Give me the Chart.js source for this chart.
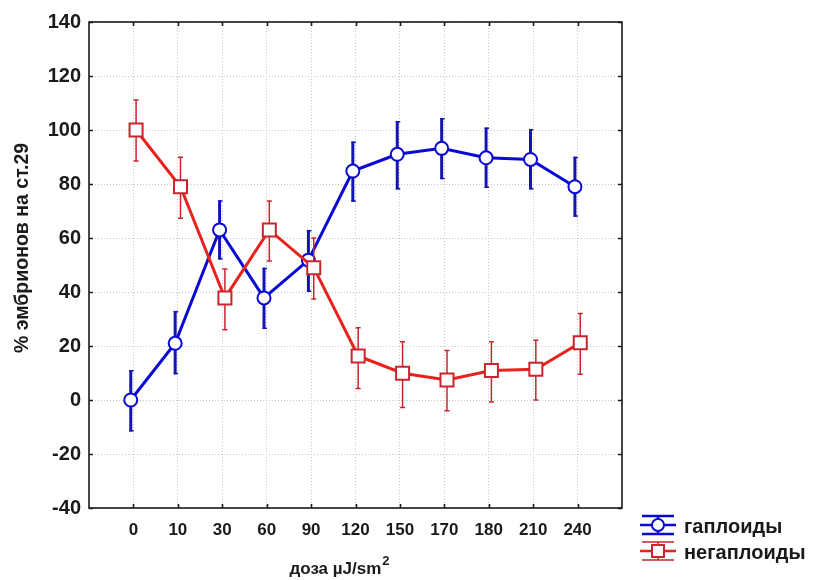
<!DOCTYPE html>
<html><head><meta charset="utf-8">
<script src="https://cdn.jsdelivr.net/npm/chart.js@4/dist/chart.umd.min.js"></script>
<style>html,body{margin:0;padding:0;background:#fff}</style>
</head><body>
<canvas id="c" width="816" height="580"></canvas>
<script>
const categories = ['0','10','30','60','90','120','150','170','180','210','240'];
const haploidMean = [0, 21, 63, 37.8, 51.8, 84.8, 91, 93.2, 89.7, 89.1, 79];
const haploidHigh = [11.1, 33, 74, 49, 63, 95.7, 103.3, 104.4, 100.9, 100.4, 90.1];
const haploidLow = [-11.7, 9.5, 52, 26.3, 40, 73.4, 78, 81.8, 78.5, 78, 67.9];
const nonHaploidMean = [100, 79, 37.8, 63, 49, 16.3, 9.9, 7.4, 10.9, 11.4, 21.2];
const nonHaploidHigh = [111.1, 89.9, 48.5, 73.7, 60, 26.8, 21.6, 18.3, 21.6, 22.1, 32];
const nonHaploidLow = [88.5, 67.3, 26, 51.5, 37.4, 4.3, -2.8, -4, -0.7, 0, 9.5];
const yTickValues = [-40, -20, 0, 20, 40, 60, 80, 100, 120, 140];
const seriesNames = ['гаплоиды', 'негаплоиды'];
const xTitle = 'доза µJ/sm';
const xTitleSup = '2';
const yTitle = '% эмбрионов на ст.29';

const BLUE = '#0a0ad2', BLUE_ERR = '#1414b4';
const RED = '#e8221c', RED_ERR = '#c8262e';
const FONT = '"Liberation Sans", Arial, sans-serif';

function pts(arr, off) { return arr.map((v, i) => ({x: i + off, y: v})); }

const errInfo = [
  {low: haploidLow, high: haploidHigh, off: -0.06, color: BLUE_ERR, width: 3, cap: 'right'},
  {low: nonHaploidLow, high: nonHaploidHigh, off: 0.06, color: RED_ERR, width: 1.5, cap: 'both'}
];

const errorBars = {
  id: 'errorBars',
  beforeDatasetDraw(chart, args) {
    const info = errInfo[args.index];
    const {ctx, scales: {x, y}} = chart;
    ctx.save();
    ctx.strokeStyle = info.color;
    ctx.lineCap = 'butt';
    info.low.forEach((lo, i) => {
      const px = x.getPixelForValue(i + info.off);
      const yl = y.getPixelForValue(lo), yh = y.getPixelForValue(info.high[i]);
      ctx.lineWidth = info.width;
      ctx.beginPath();
      ctx.moveTo(px, yl); ctx.lineTo(px, yh);
      ctx.stroke();
      ctx.beginPath();
      ctx.lineWidth = 1.5;
      if (info.cap === 'right') {
        ctx.moveTo(px - 1.5, yh + 0.75); ctx.lineTo(px + 3, yh + 0.75);
        ctx.moveTo(px - 1.5, yl - 0.75); ctx.lineTo(px + 3, yl - 0.75);
      } else {
        ctx.moveTo(px - 2.5, yh); ctx.lineTo(px + 2.5, yh);
        ctx.moveTo(px - 2.5, yl); ctx.lineTo(px + 2.5, yl);
      }
      ctx.stroke();
    });
    ctx.restore();
  }
};

const frame = {
  id: 'frame',
  beforeDatasetsDraw(chart) {
    const {ctx, chartArea: a, scales: {x, y}} = chart;
    ctx.save();
    ctx.strokeStyle = '#1a1a1a';
    ctx.lineWidth = 1.6;
    ctx.strokeRect(a.left, a.top, a.right - a.left, a.bottom - a.top);
    ctx.beginPath();
    categories.forEach((c, i) => {
      const px = Math.round(x.getPixelForValue(i)) + 0.5;
      ctx.moveTo(px, a.top); ctx.lineTo(px, a.top + 4);
      ctx.moveTo(px, a.bottom); ctx.lineTo(px, a.bottom - 4);
    });
    yTickValues.forEach(v => {
      const py = Math.round(y.getPixelForValue(v)) + 0.5;
      ctx.moveTo(a.left, py); ctx.lineTo(a.left + 4, py);
      ctx.moveTo(a.right, py); ctx.lineTo(a.right - 4, py);
    });
    ctx.stroke();
    ctx.restore();
  }
};

const texts = {
  id: 'texts',
  afterDraw(chart) {
    const {ctx} = chart;
    ctx.save();
    ctx.fillStyle = '#1a1a1a';
    // y title
    ctx.font = 'bold 19.5px ' + FONT;
    ctx.textAlign = 'center';
    ctx.textBaseline = 'middle';
    ctx.save();
    ctx.translate(23, 248);
    ctx.rotate(-Math.PI / 2);
    ctx.fillText(yTitle, 0, 0);
    ctx.restore();
    // x title
    ctx.font = 'bold 17px ' + FONT;
    ctx.textAlign = 'left';
    ctx.textBaseline = 'alphabetic';
    const w = ctx.measureText(xTitle).width;
    ctx.font = 'bold 13px ' + FONT;
    const ws = ctx.measureText(xTitleSup).width;
    const x0 = 339 - (w + ws) / 2;
    ctx.font = 'bold 17px ' + FONT;
    ctx.fillText(xTitle, x0, 574);
    ctx.font = 'bold 13px ' + FONT;
    ctx.fillText(xTitleSup, x0 + w + 1, 565);
    // legend
    const rows = [
      {y: 525, color: BLUE, err: BLUE_ERR, shape: 'circle', label: seriesNames[0]},
      {y: 551, color: RED, err: RED_ERR, shape: 'rect', label: seriesNames[1]}
    ];
    rows.forEach(r => {
      const cx = 658;
      ctx.strokeStyle = r.shape === 'circle' ? r.color : r.err;
      ctx.lineWidth = r.shape === 'circle' ? 2.5 : 1.5;
      ctx.beginPath();
      ctx.moveTo(642, r.y - 9); ctx.lineTo(674, r.y - 9);
      ctx.moveTo(642, r.y + 9); ctx.lineTo(674, r.y + 9);
      ctx.moveTo(cx, r.y - 9); ctx.lineTo(cx, r.y + 9);
      ctx.stroke();
      ctx.strokeStyle = r.color;
      ctx.lineWidth = 2.5;
      ctx.beginPath();
      ctx.moveTo(640, r.y); ctx.lineTo(676, r.y);
      ctx.stroke();
      ctx.fillStyle = '#fff';
      ctx.lineWidth = 2;
      ctx.strokeStyle = r.shape === 'circle' ? r.color : r.err;
      ctx.beginPath();
      if (r.shape === 'circle') ctx.arc(cx, r.y, 6, 0, Math.PI * 2);
      else ctx.rect(cx - 6, r.y - 6, 12, 12);
      ctx.fill(); ctx.stroke();
      ctx.fillStyle = '#1a1a1a';
      ctx.font = 'bold 20px ' + FONT;
      ctx.textBaseline = 'middle';
      ctx.fillText(r.label, 684, r.y + 2);
    });
    ctx.restore();
  }
};

new Chart(document.getElementById('c'), {
  type: 'line',
  data: {
    datasets: [
      {
        label: seriesNames[0], data: pts(haploidMean, -0.06), order: 1,
        borderColor: BLUE, borderWidth: 3, pointStyle: 'circle', pointRadius: 6.5,
        pointBackgroundColor: '#fff', pointBorderColor: BLUE, pointBorderWidth: 2, tension: 0
      },
      {
        label: seriesNames[1], data: pts(nonHaploidMean, 0.06), order: 0,
        borderColor: RED, borderWidth: 3, pointStyle: 'rect', pointRadius: 9.2,
        pointBackgroundColor: '#fff', pointBorderColor: RED_ERR, pointBorderWidth: 2, tension: 0
      }
    ]
  },
  options: {
    responsive: false, animation: false, devicePixelRatio: 1,
    layout: {padding: {left: 0, right: 194, top: 22, bottom: 0}},
    plugins: {legend: {display: false}, tooltip: {enabled: false}},
    scales: {
      x: {
        type: 'linear', min: -1, max: 11,
        afterFit: s => { s.height = 72; },
        afterBuildTicks: s => { s.ticks = categories.map((c, i) => ({value: i})); },
        ticks: {
          callback: v => categories[v] ?? '', autoSkip: false, maxRotation: 0,
          color: '#1a1a1a', font: {family: FONT, size: 17, weight: 'bold'}, padding: 12
        },
        grid: {color: '#c8c8c8', lineWidth: 1, drawTicks: false},
        border: {display: false, dash: [1, 2]}
      },
      y: {
        min: -40, max: 140,
        afterFit: s => { s.width = 89; },
        afterBuildTicks: s => { s.ticks = yTickValues.map(v => ({value: v})); },
        ticks: {
          color: '#1a1a1a', font: {family: FONT, size: 20, weight: 'bold'}, padding: 8
        },
        grid: {color: '#c8c8c8', lineWidth: 1, drawTicks: false},
        border: {display: false, dash: [1, 2]}
      }
    }
  },
  plugins: [frame, errorBars, texts]
});
</script>
</body></html>
